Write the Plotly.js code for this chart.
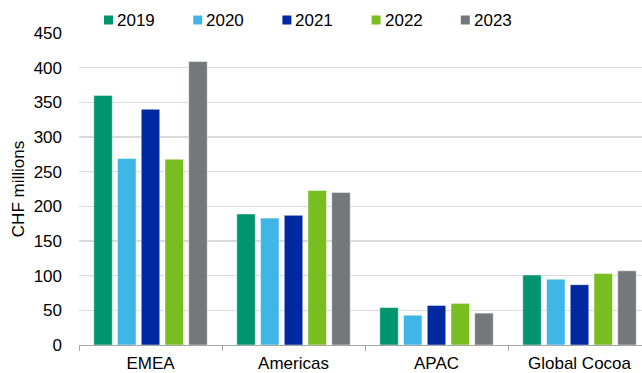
<!DOCTYPE html>
<html>
<head>
<meta charset="utf-8">
<script src="https://cdn.plot.ly/plotly-3.0.1.min.js"></script>
<style>html,body{margin:0;padding:0;background:#fff;}#chart{width:642px;height:373px;}</style>
</head>
<body>
<div id="chart"></div>
<script>
const categories = ["EMEA", "Americas", "APAC", "Global Cocoa"];
const years = ["2019", "2020", "2021", "2022", "2023"];
const v2019 = [360, 189, 54, 101];
const v2020 = [269, 183, 43, 95];
const v2021 = [340, 187, 57, 87];
const v2022 = [268, 223, 60, 103];
const v2023 = [409, 220, 46, 107];
const colors = ["#00956F", "#41B6E6", "#0028A0", "#78BE20", "#75787B"];

const series = [v2019, v2020, v2021, v2022, v2023];
const traces = series.map((vals, i) => ({
  type: "bar",
  name: years[i],
  x: categories,
  y: vals,
  marker: { color: colors[i], line: { color: "rgba(255,255,255,0.6)", width: 0.8 } },
  hoverinfo: "skip",
  showlegend: false
}));

const font = { family: "Liberation Sans, Arial, sans-serif", size: 17, color: "#000" };

// plot-area geometry (pixels) used to place the custom legend
const W = 642, H = 373, L = 79, R = 0, T = 33, B = 28;
const pw = W - L - R, ph = H - T - B;
const legStart = 104, legPitch = 89.2, legY = 20, sq = 9, txtGap = 13;
const toPx = px => (px - L) / pw;
const toPy = py => (H - B - py) / ph;

const shapes = [];
const annotations = [];
years.forEach((yr, i) => {
  const x0 = legStart + i * legPitch;
  shapes.push({
    type: "rect", xref: "paper", yref: "paper",
    x0: toPx(x0), x1: toPx(x0 + sq),
    y0: toPy(legY + sq / 2), y1: toPy(legY - sq / 2),
    fillcolor: colors[i], line: { width: 0 }
  });
  annotations.push({
    xref: "paper", yref: "paper",
    x: toPx(x0 + txtGap - 1), y: toPy(legY + 0.5),
    xanchor: "left", yanchor: "middle",
    text: yr, showarrow: false, font: font,
    borderpad: 0
  });
});

const layout = {
  width: W,
  height: H,
  margin: { l: L, r: R, t: T, b: B, pad: 0, autoexpand: false },
  paper_bgcolor: "#fff",
  plot_bgcolor: "#fff",
  font: font,
  barmode: "group",
  bargap: 0.17,
  bargroupgap: 0.22,
  showlegend: false,
  shapes: shapes,
  annotations: annotations,
  xaxis: {
    type: "category",
    range: [-0.5, 3.437],
    showline: true, linecolor: "#A6A6A6", linewidth: 1,
    ticks: "outside", tickson: "boundaries", ticklen: 5, tickcolor: "#A6A6A6",
    showgrid: false, zeroline: false,
    tickfont: font,
    ticklabelstandoff: 3,
    fixedrange: true
  },
  yaxis: {
    range: [0, 450],
    dtick: 50,
    showgrid: true, gridcolor: "#D9D9D9", gridwidth: 1.5,
    showline: false, zeroline: false,
    ticks: "", ticklabelstandoff: 16,
    tickfont: font,
    title: { text: "CHF millions", font: font, standoff: 4 },
    fixedrange: true
  }
};

Plotly.newPlot("chart", traces, layout, { displayModeBar: false, staticPlot: true });
</script>
</body>
</html>
